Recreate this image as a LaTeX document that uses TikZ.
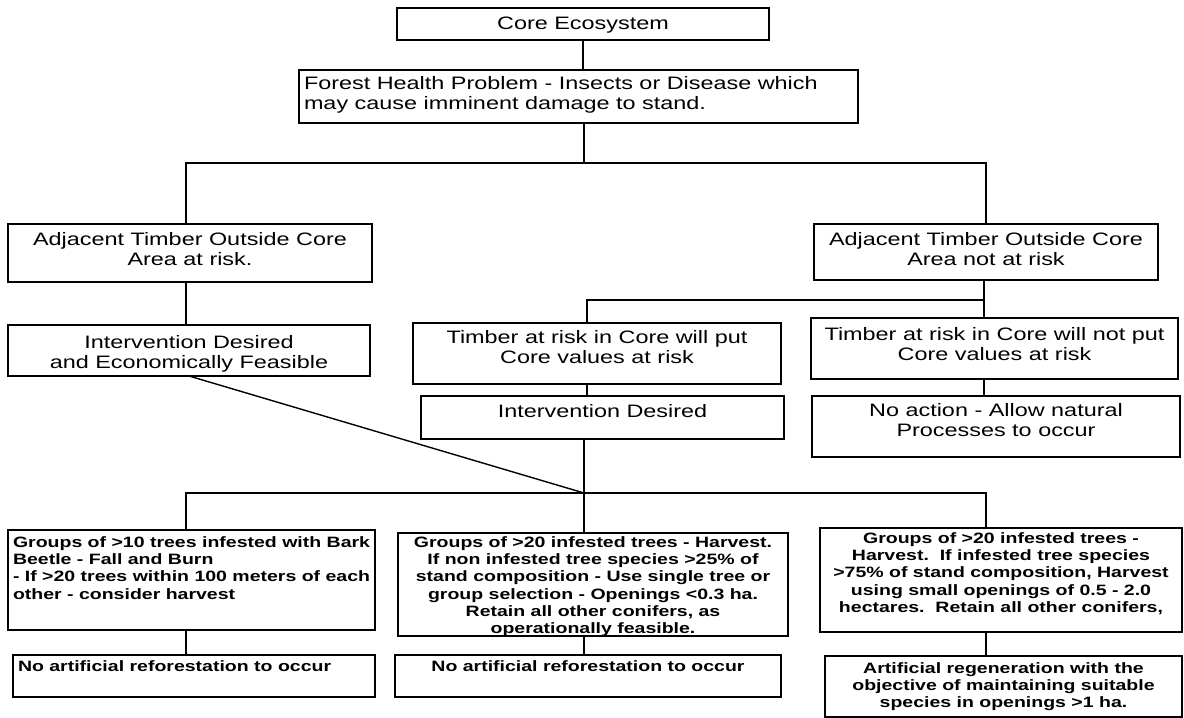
\documentclass[tikz,border=0pt]{standalone}
\usepackage{fontspec}
\setmainfont{Liberation Sans}[FakeStretch=1.3]
\newcommand{\plainsize}{\fontsize{18bp}{20bp}\selectfont}
\newcommand{\heavysize}{\fontsize{15bp}{17.2bp}\selectfont\bfseries}
% width, height, top pad, lines
\newcommand{\midtext}[4]{\parbox[c][#2][t]{#1}{\vspace*{#3}\centering\begin{tabular}[t]{@{}c@{}}#4\end{tabular}}}
\newcommand{\lefttext}[4]{\parbox[c][#2][t]{#1}{\vspace*{#3}\raggedright\hspace*{5bp}\begin{tabular}[t]{@{}l@{}}#4\end{tabular}}}

\begin{document}
\begin{tikzpicture}[x=1bp,y=-1bp,
  box/.style={draw, line width=1.9bp, inner sep=0pt, outer sep=0pt, anchor=north west},
  link/.style={line width=1.4bp}]
\useasboundingbox (0,0) rectangle (1184,718);

\coordinate (fork1) at (584,163);
\coordinate (fork1L) at (186,163);
\coordinate (fork2) at (984,300);
\coordinate (fork2L) at (587,300);
\coordinate (fork3) at (584,493);
\coordinate (fork3L) at (186,493);
\coordinate (fork3R) at (986,493);

\node [box] (core) at (397,8) {\plainsize\midtext{372bp}{32bp}{8bp}{Core Ecosystem}};
\node [box] (forest) at (299,70) {\plainsize\lefttext{559bp}{53bp}{6bp}{Forest Health Problem - Insects or Disease which\\ may cause imminent damage to stand.}};
\node [box] (adjL) at (8,224) {\plainsize\midtext{364bp}{58bp}{7bp}{Adjacent Timber Outside Core\\ Area at risk.}};
\node [box] (adjR) at (814,224) {\plainsize\midtext{344bp}{56bp}{7bp}{Adjacent Timber Outside Core\\ Area not at risk}};
\node [box] (intEcon) at (8,325) {\plainsize\midtext{362bp}{51bp}{9bp}{Intervention Desired\\ and Economically Feasible}};
\node [box] (putRisk) at (413,323) {\plainsize\midtext{368bp}{61bp}{6bp}{Timber at risk in Core will put\\ Core values at risk}};
\node [box] (notRisk) at (811,318) {\plainsize\midtext{367bp}{61bp}{8bp}{Timber at risk in Core will not put\\ Core values at risk}};
\node [box] (intDes) at (421,396) {\plainsize\midtext{363bp}{43bp}{7bp}{Intervention Desired}};
\node [box] (noAction) at (812,396) {\plainsize\midtext{368bp}{61bp}{6bp}{No action - Allow natural\\ Processes to occur}};

\node [box] (bl) at (8,530) {\heavysize\lefttext{367bp}{100bp}{5.5bp}{Groups of >10 trees infested with Bark\\ Beetle - Fall and Burn\\ - If >20 trees within 100 meters of each\\ other - consider harvest}};
\node [box] (bm) at (398,533) {\heavysize\midtext{390bp}{103bp}{2.5bp}{Groups of >20 infested trees - Harvest.\\ If non infested tree species >25\% of\\ stand composition - Use single tree or\\ group selection - Openings <0.3 ha.\\ Retain all other conifers, as\\ operationally feasible.}};
\node [box] (br) at (820,528) {\heavysize\midtext{362bp}{104bp}{3.5bp}{Groups of >20 infested trees -\\ Harvest.\ \ If infested tree species\\ >75\% of stand composition, Harvest\\ using small openings of 0.5 - 2.0\\ hectares.\ \ Retain all other conifers,}};
\node [box] (ll) at (13,655) {\heavysize\lefttext{362bp}{42bp}{4.5bp}{No artificial reforestation to occur}};
\node [box] (lm) at (395,655) {\heavysize\midtext{386bp}{42bp}{4.5bp}{No artificial reforestation to occur}};
\node [box] (lr) at (825,656) {\heavysize\midtext{357bp}{61bp}{5.5bp}{Artificial regeneration with the\\ objective of maintaining suitable\\ species in openings >1 ha.}};

\draw [link] (core.south) -- (core.south |- forest.north);
\draw [link] (forest.south -| fork1) -- (fork1);
\draw [link] (fork1L |- adjL.north) -- (fork1L) -- (adjR.north |- fork1) -- (adjR.north);
\draw [link] (adjL.south -| fork1L) -- (fork1L |- intEcon.north);
\draw [link] (adjR.south -| fork2) -- (fork2 |- notRisk.north);
\draw [link] (fork2) -- (fork2L) -- (fork2L |- putRisk.north);
\draw [link] (notRisk.south -| fork2) -- (fork2 |- noAction.north);
\draw [link] (putRisk.south -| fork2L) -- (fork2L |- intDes.north);
\draw [link] (intDes.south -| fork3) -- (fork3 |- bm.north);
\draw [link] (intEcon.south) -- (fork3);
\draw [link] (fork3L |- bl.north) -- (fork3L) -- (fork3R) -- (fork3R |- br.north);
\draw [link] (bl.south -| fork3L) -- (fork3L |- ll.north);
\draw [link] (bm.south -| fork3) -- (fork3 |- lm.north);
\draw [link] (br.south -| fork3R) -- (fork3R |- lr.north);
\end{tikzpicture}
\end{document}
